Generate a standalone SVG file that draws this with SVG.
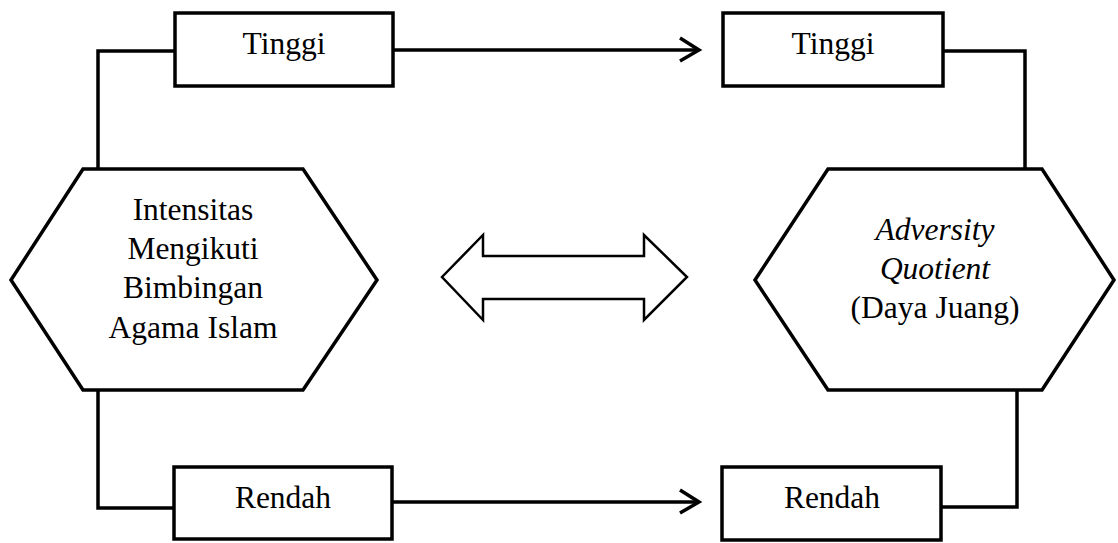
<svg xmlns="http://www.w3.org/2000/svg" width="1118" height="543" viewBox="0 0 1118 543">
<style>
.box{fill:#fff;stroke:#000;stroke-width:3.5}
.hex{fill:#fff;stroke:#000;stroke-width:3.5;stroke-linejoin:miter}
.ln{fill:none;stroke:#000;stroke-width:3.5}
.dbl{fill:#fff;stroke:#000;stroke-width:2.5}
text{font-family:"Liberation Serif","Times New Roman",serif;font-size:31.5px;fill:#000;text-anchor:middle}
.it{font-style:italic}
</style>
<rect width="1118" height="543" fill="#fff"/>
<g id="connectors">
<polyline class="ln" points="175,51 98,51 98,169"/>
<polyline class="ln" points="98,390 98,508 174,508"/>
<polyline class="ln" points="943,51 1025,51 1025,169"/>
<polyline class="ln" points="1017,390 1017,507 941,507"/>
<line class="ln" x1="393" y1="50" x2="698" y2="50"/>
<polyline class="ln" points="680,38 699,50 680,61"/>
<line class="ln" x1="392" y1="502" x2="698" y2="502"/>
<polyline class="ln" points="680,490 699,502 680,513"/>
</g>
<g id="tinggi-left">
<rect class="box" x="175" y="13" width="218" height="73"/>
<text x="284" y="54">Tinggi</text>
</g>
<g id="rendah-left">
<rect class="box" x="174" y="467" width="218" height="72"/>
<text x="283" y="508">Rendah</text>
</g>
<g id="tinggi-right">
<rect class="box" x="723" y="13" width="220" height="73"/>
<text x="833" y="54">Tinggi</text>
</g>
<g id="rendah-right">
<rect class="box" x="722" y="467" width="219" height="73"/>
<text x="832" y="508">Rendah</text>
</g>
<g id="intensitas">
<polygon class="hex" points="83,169 303,169 377,280 303,390 83,390 11,280"/>
<text x="193" y="220">Intensitas</text>
<text x="193" y="259">Mengikuti</text>
<text x="193" y="298">Bimbingan</text>
<text x="193" y="338">Agama Islam</text>
</g>
<g id="adversity">
<polygon class="hex" points="828,169 1042,169 1114,280 1042,390 828,390 755,280"/>
<text class="it" x="935" y="240">Adversity</text>
<text class="it" x="935" y="279">Quotient</text>
<text x="935" y="318">(Daya Juang)</text>
</g>
<g id="double-arrow">
<path class="dbl" d="M442,277 L483,235 L483,256 L644,256 L644,235 L687,277 L644,320 L644,299 L483,299 L483,320 Z"/>
</g>
</svg>
